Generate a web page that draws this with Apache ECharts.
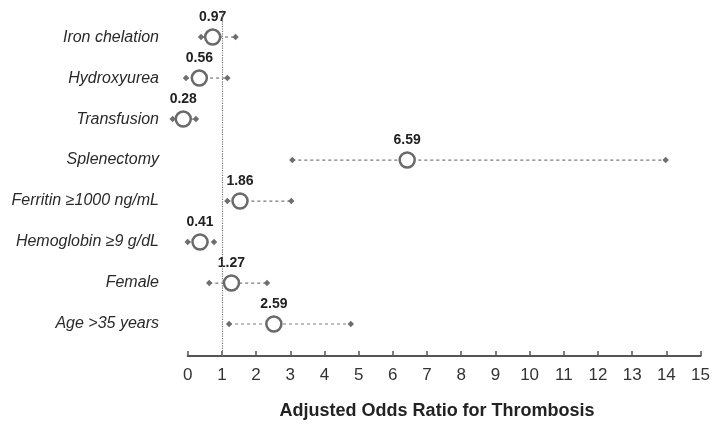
<!DOCTYPE html>
<html>
<head>
<meta charset="utf-8">
<script src="https://cdn.jsdelivr.net/npm/echarts@6/dist/echarts.min.js"></script>
<style>
html,body{margin:0;padding:0;background:#fff;}
#chart{width:713px;height:425px;}
</style>
</head>
<body>
<div id="chart"></div>
<script>
// Rows, top to bottom
const categories = ['Iron chelation', 'Hydroxyurea', 'Transfusion', 'Splenectomy', 'Ferritin \u22651000 ng/mL', 'Hemoglobin \u22659 g/dL', 'Female', 'Age >35 years'];
// Printed odds ratios
const orLabels = ['0.97', '0.56', '0.28', '6.59', '1.86', '0.41', '1.27', '2.59'];
// Plotted point positions (as drawn in the picture)
const pointX = [0.73, 0.34, -0.13, 6.42, 1.53, 0.36, 1.28, 2.52];
// Interval ends (as drawn)
const ciLow = [0.39, -0.05, -0.44, 3.06, 1.16, 0.00, 0.63, 1.21];
const ciHigh = [1.40, 1.16, 0.24, 13.98, 3.03, 0.77, 2.32, 4.77];
// x axis ticks
const xTicks = [0, 1, 2, 3, 4, 5, 6, 7, 8, 9, 10, 11, 12, 13, 14, 15];
const refLine = 1;
const xTitle = 'Adjusted Odds Ratio for Thrombosis';

const n = categories.length;
const rowY = categories.map((c, i) => n - 1 - i);
const FONT = '"Liberation Sans", Arial, sans-serif';

const chart = echarts.init(document.getElementById('chart'), null, {renderer: 'canvas'});

const ciData = categories.map((c, i) => [ciLow[i], ciHigh[i], rowY[i]]);
const ptData = categories.map((c, i) => [pointX[i], rowY[i]]);

chart.setOption({
  animation: false,
  backgroundColor: '#ffffff',
  grid: {left: 187.7, right: 11.3, top: 10, bottom: 69, containLabel: false},
  xAxis: {
    type: 'value',
    min: xTicks[0],
    max: xTicks[xTicks.length - 1],
    interval: 1,
    position: 'bottom',
    axisLine: {show: true, onZero: false, lineStyle: {color: '#555', width: 2}},
    axisTick: {show: true, inside: true, length: 5, lineStyle: {color: '#555', width: 1.5}},
    axisLabel: {fontFamily: FONT, fontSize: 17, color: '#333', margin: 11},
    splitLine: {show: false},
    name: xTitle,
    nameLocation: 'middle',
    nameGap: 46,
    nameTextStyle: {fontFamily: FONT, fontSize: 18, fontWeight: 'bold', color: '#222', padding: [0, 14, 0, 0]}
  },
  yAxis: {
    type: 'value',
    min: -0.78,
    max: 7.66,
    splitNumber: 9,
    axisLine: {show: false},
    axisTick: {show: false},
    splitLine: {show: false},
    axisLabel: {
      fontFamily: FONT, fontSize: 16, fontStyle: 'italic', color: '#2a2a2a', margin: 28.7,
      formatter: function (v) {
        const r = Math.round(v);
        if (Math.abs(v - r) > 1e-6 || r < 0 || r > n - 1) return '';
        return categories[n - 1 - r];
      }
    }
  },
  series: [
    {
      type: 'custom',
      clip: false,
      silent: true,
      z: 2,
      data: ciData,
      renderItem: function (params, api) {
        const p1 = api.coord([api.value(0), api.value(2)]);
        const p2 = api.coord([api.value(1), api.value(2)]);
        const d = 3.2;
        const diamond = (p) => ({
          type: 'polygon',
          shape: {points: [[p[0] - d, p[1]], [p[0], p[1] - d], [p[0] + d, p[1]], [p[0], p[1] + d]]},
          style: {fill: '#6e6e6e'}
        });
        return {
          type: 'group',
          children: [
            {type: 'line', shape: {x1: p1[0], y1: p1[1], x2: p2[0], y2: p2[1]},
             style: {stroke: '#7a7a7a', lineWidth: 1.2, lineDash: [3, 3]}},
            diamond(p1), diamond(p2)
          ]
        };
      }
    },
    {
      type: 'scatter',
      clip: false,
      z: 3,
      data: ptData,
      symbol: 'circle',
      symbolSize: 15,
      itemStyle: {color: '#ffffff', borderColor: '#6a6a6a', borderWidth: 2.5, opacity: 1},
      label: {
        show: true,
        position: 'top',
        distance: 4.5,
        fontFamily: FONT,
        fontSize: 14,
        fontWeight: 'bold',
        color: '#222',
        formatter: function (p) { return orLabels[p.dataIndex]; }
      },
      markLine: {
        silent: true,
        symbol: ['none', 'none'],
        label: {show: false},
        lineStyle: {type: 'dotted', color: '#777', width: 1.2},
        data: [{xAxis: refLine}]
      }
    }
  ]
});
</script>
</body>
</html>
